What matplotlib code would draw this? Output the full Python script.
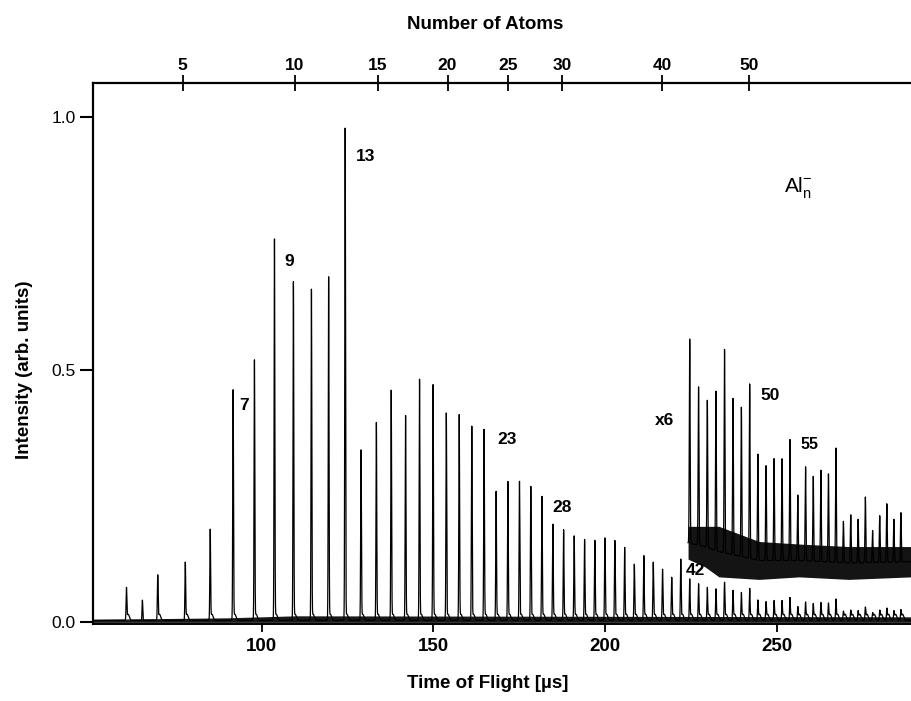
import numpy as np
import matplotlib
matplotlib.use("Agg")
import matplotlib.pyplot as plt

plt.rcParams['font.family'] = ['Liberation Sans', 'DejaVu Sans']

# top axis: number of atoms, and where each tick sits on the time axis (us)
atoms_ticks = [5, 10, 15, 20, 25, 30, 40, 50]
atoms_tick_tof = [77.0, 109.7, 133.9, 154.1, 171.8, 187.5, 216.6, 241.9]

# Al_n- peak heights (arb. units) for n = 3 ... 70
cluster_n = list(range(3, 71))
main_heights = [0.065, 0.09, 0.115, 0.18, 0.456, 0.515, 0.755, 0.67, 0.655, 0.68,
                0.974, 0.337, 0.392, 0.455, 0.405, 0.477, 0.466, 0.41, 0.407, 0.384,
                0.378, 0.255, 0.275, 0.275, 0.265, 0.245, 0.19, 0.179, 0.167, 0.16,
                0.158, 0.163, 0.158, 0.144, 0.111, 0.128, 0.115, 0.101, 0.085, 0.121,
                0.082, 0.072, 0.065, 0.062, 0.075, 0.059, 0.055, 0.063, 0.040, 0.037,
                0.039, 0.039, 0.045, 0.027, 0.036, 0.033, 0.035, 0.034, 0.042, 0.018,
                0.020, 0.019, 0.026, 0.015, 0.020, 0.024, 0.019, 0.021]

# the x6 trace, n = 43 ... 70
x6_n = list(range(43, 71))
x6_heights = [0.561, 0.466, 0.44, 0.458, 0.54, 0.443, 0.426, 0.472, 0.333, 0.31,
              0.324, 0.324, 0.362, 0.252, 0.308, 0.289, 0.301, 0.294, 0.345, 0.2,
              0.213, 0.204, 0.248, 0.182, 0.211, 0.235, 0.204, 0.217]

# small unassigned peak
extra_tof = [65.3]
extra_heights = [0.04]

# noise band of the main baseline
band_tof = [51, 90, 110, 200, 289]
band_top = [0.006, 0.009, 0.013, 0.012, 0.011]

# noise band of the x6 trace
x6_band_tof = [224.1, 229.0, 233.1, 244.8, 256.4, 270.9, 289.0]
x6_band_low = [0.125, 0.11, 0.09, 0.085, 0.09, 0.085, 0.09]
x6_band_high = [0.19, 0.19, 0.19, 0.16, 0.155, 0.15, 0.15]

# peak annotations
label_text = ['7', '9', '13', '23', '28', '42', '50', '55']
label_tof = [93.6, 106.7, 127.3, 168.6, 184.6, 223.5, 245.3, 256.7]
label_int = [0.429, 0.713, 0.921, 0.362, 0.227, 0.103, 0.449, 0.352]

# calibration of flight time against cluster size, fitted on the top ticks
A, B = np.polyfit(np.sqrt(atoms_ticks), atoms_tick_tof, 1)
peak_tof = A * np.sqrt(np.array(cluster_n)) + B
x6_tof = A * np.sqrt(np.array(x6_n)) + B


def peaks(t, centers, heights, width):
    y = np.zeros_like(t)
    for c, h in zip(centers, heights):
        y += h * np.exp(-0.5 * ((t - c) / width) ** 2)
    return y


t = np.linspace(50.9, 289.0, 14000)
base = 0.004
y = base + peaks(t, peak_tof, np.array(main_heights) - base, 0.11)
y += peaks(t, peak_tof + 0.5, np.full(len(cluster_n), 0.012), 0.35)
y += peaks(t, extra_tof, extra_heights, 0.1)

fig = plt.figure(figsize=(9.11, 7.01), dpi=100)
ax = fig.add_axes([0.102, 0.110, 0.898, 0.7716])

ax.fill_between(t, 0, np.interp(t, band_tof, band_top), color='black', lw=0, alpha=0.9)
ax.plot(t, y, color='black', lw=0.9)

# x6 part
t6 = t[t >= 224.1]
low6 = np.interp(t6, x6_band_tof, x6_band_low)
high6 = np.interp(t6, x6_band_tof, x6_band_high)
mid6 = (low6 + high6) / 2
mid_at_peaks = np.interp(x6_tof, x6_band_tof,
                         (np.array(x6_band_low) + np.array(x6_band_high)) / 2)
y6 = mid6 + peaks(t6, x6_tof, np.array(x6_heights) - mid_at_peaks, 0.12)
ax.fill_between(t6, low6, high6, color='black', lw=0, alpha=0.92)
ax.plot(t6, y6, color='black', lw=0.9)

ax.set_xlim(50.9, 289.0)
ax.set_ylim(-0.003, 1.067)

ax.spines['right'].set_visible(False)
ax.spines['top'].set_visible(False)
ax.spines['left'].set_linewidth(1.6)
ax.spines['bottom'].set_linewidth(1.4)

ax.set_xticks([100, 150, 200, 250])
ax.set_xticklabels(['100', '150', '200', '250'], fontsize=13.5, fontweight='bold')
ax.tick_params(axis='x', direction='out', length=6, width=1.3, pad=4)
ax.set_yticks([0.0, 0.5, 1.0])
ax.set_yticklabels(['0.0', '0.5', '1.0'], fontsize=12.5)
ax.tick_params(axis='y', direction='out', length=9.5, width=1.5, pad=3)

ax.set_xlabel('Time of Flight [µs]', fontsize=13.5, fontweight='bold')
ax.xaxis.set_label_coords(0.482, -0.094)
ax.set_ylabel('Intensity (arb. units)', fontsize=13.5, fontweight='bold')
ax.yaxis.set_label_coords(-0.073, 0.47)

ax2 = ax.twiny()
ax2.set_xlim(ax.get_xlim())
ax2.set_xticks(atoms_tick_tof)
ax2.set_xticklabels([str(n) for n in atoms_ticks], fontsize=12.5, fontweight='bold')
ax2.tick_params(axis='x', direction='inout', length=12, width=1.3, pad=1)
for side in ['left', 'right', 'bottom']:
    ax2.spines[side].set_visible(False)
ax2.spines['top'].set_linewidth(1.6)
ax2.set_xlabel('Number of Atoms', fontsize=13.5, fontweight='bold')
ax2.xaxis.set_label_coords(0.479, 1.10)

for s, tx, iy in zip(label_text, label_tof, label_int):
    fs = 11.5 if s == '55' else 12.5
    ax.text(tx, iy, s, fontsize=fs, fontweight='bold', ha='left', va='center')

ax.text(214.5, 0.399, 'x6', fontsize=12.5, fontweight='bold', ha='left', va='center')
ax.text(252.0, 0.86, r'Al$_\mathregular{n}^{\mathregular{-}}$', fontsize=15,
        ha='left', va='center')

fig.savefig('out.png', dpi=100)
